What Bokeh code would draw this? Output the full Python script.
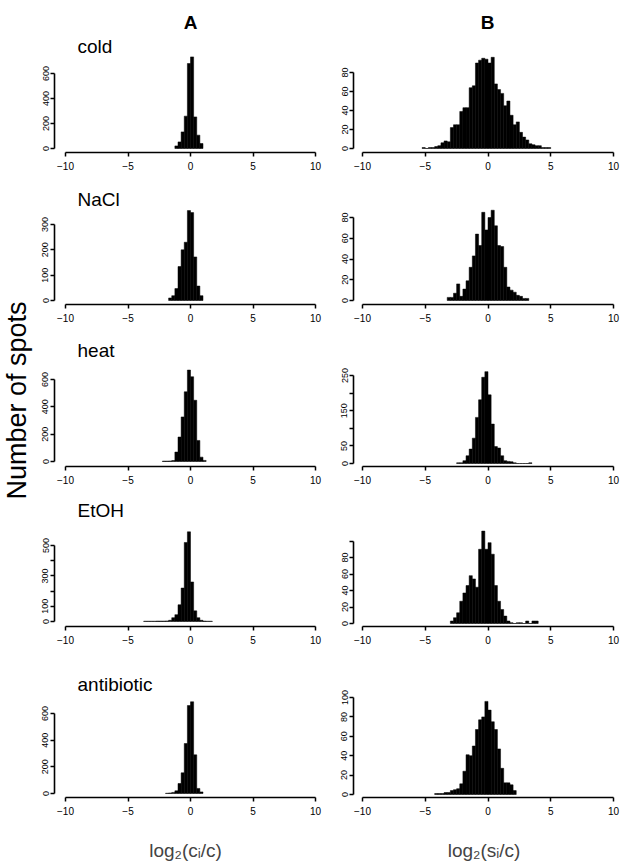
import math
from bokeh.plotting import figure
from bokeh.layouts import row, column
from bokeh.models import FixedTicker, Range1d
from bokeh.core.properties import value
from bokeh.embed import file_html
from bokeh.resources import INLINE

FONT = "Liberation Sans"
BIN = 0.25  # histogram bin width (log2 units)

conditions = ["cold", "NaCl", "heat", "EtOH", "antibiotic"]
col_headers = ["A", "B"]
x_ticks = [-10, -5, 0, 5, 10]
y_label = "Number of spots"
x_label_A = "log\u2082(c\u1d62/c)"
x_label_B = "log\u2082(s\u1d62/c)"

# ---- Column A : log2(ci/c) ; first bin left edge + counts ----
cold_A_start = -1.25
cold_A_counts = [21, 53, 133, 259, 680, 733, 253, 107, 40]
nacl_A_start = -1.75
nacl_A_counts = [10, 19, 47, 134, 200, 230, 355, 347, 172, 57, 19]
heat_A_start = -2.25
heat_A_counts = [3, 3, 4, 7, 69, 179, 326, 510, 669, 620, 448, 154, 32, 8]
etoh_A_start = -3.75
etoh_A_counts = [2, 2, 2, 2, 3, 3, 3, 4, 8, 25, 45, 110, 220, 520, 590, 260, 70, 25, 8, 3, 2, 2]
anti_A_start = -2.0
anti_A_counts = [2, 4, 8, 20, 75, 155, 375, 660, 688, 290, 38, 12]

# ---- Column B : log2(si/c) ----
cold_B_start = -5.25
cold_B_counts = [1, 0, 1, 1, 2, 3, 6, 8, 7, 22, 25, 25, 39, 43, 43, 64, 66, 90, 93, 95, 94,
                 90, 96, 68, 62, 58, 45, 50, 35, 25, 28, 17, 12, 9, 5, 4, 3, 3, 1, 1, 1]
nacl_B_start = -3.25
nacl_B_counts = [3, 3, 7, 16, 4, 11, 19, 32, 43, 64, 53, 85, 68, 80, 87, 72, 53, 52, 32, 13,
                 10, 8, 5, 4, 2, 2]
heat_B_start = -2.5
heat_B_counts = [2, 2, 8, 22, 41, 72, 131, 181, 245, 261, 195, 112, 48, 44, 22, 8, 6, 5, 2,
                 0, 0, 0, 0, 2]
etoh_B_start = -3.0
etoh_B_counts = [3, 7, 13, 27, 37, 46, 58, 54, 44, 90, 112, 90, 98, 84, 46, 27, 17, 9, 3, 1,
                 0, 1, 1, 0, 3, 0, 3, 3]
anti_B_start = -4.25
anti_B_counts = [1, 1, 1, 2, 2, 4, 5, 6, 11, 24, 41, 40, 50, 67, 77, 80, 96, 87, 75, 67, 47,
                 27, 12, 12, 10, 4]

# y-axis ticks per panel, and tick labels that the original omitted
yticks_A = [[0, 200, 400, 600], [0, 100, 200, 300], [0, 200, 400, 600],
            [0, 100, 200, 300, 400, 500], [0, 200, 400, 600]]
yhide_A = [[], [], [], [200, 400], []]
yticks_B = [[0, 20, 40, 60, 80], [0, 20, 40, 60, 80], [0, 50, 100, 150, 200, 250],
            [0, 20, 40, 60, 80, 100], [0, 20, 40, 60, 80, 100]]
yhide_B = [[], [], [100, 200], [100], []]

data_A = [(cold_A_start, cold_A_counts), (nacl_A_start, nacl_A_counts),
          (heat_A_start, heat_A_counts), (etoh_A_start, etoh_A_counts),
          (anti_A_start, anti_A_counts)]
data_B = [(cold_B_start, cold_B_counts), (nacl_B_start, nacl_B_counts),
          (heat_B_start, heat_B_counts), (etoh_B_start, etoh_B_counts),
          (anti_B_start, anti_B_counts)]

# ---- layout (page pixels) ----
YLAB_W = 34
# column geometry: frame left/width, border left/right, pixel of x=0, px per unit
COLS = {
    "A": dict(bl=20, fl=54, fw=262, br=19, x0=190.0, sx=12.5, hx=190.0),
    "B": dict(bl=18, fl=353, fw=261, br=8, x0=487.5, sx=12.55, hx=487.0),
}
ROW_TOP = [0, 176, 327, 488, 652]          # top of each row of panels
AXIS_Y = [152, 304, 466, 626, 797]         # x-axis line (frame bottom)
BOTTOM = [24, 23, 22, 26, 66]              # space below the x-axis
TITLE_BASE = [46, 199, 350, 510, 684]      # baseline of the condition names
TITLE_X = 77                               # left edge of the condition names
HEAD_BASE = 22                             # baseline of the A / B headers
# pixel of y=0 and px per count, per panel
ZERO_A = [(148, 0.125), (300, 0.2533), (461, 0.1367), (621, 0.152), (793, 0.1333)]
ZERO_B = [(148, 0.95), (300, 1.0375), (463, 0.352), (623, 0.825), (794, 0.97)]


def panel(col, r, start, counts, yticks, yhide, zero, title=None, header=None, xlabel=None):
    c = COLS[col]
    top, axis_y = ROW_TOP[r], AXIS_Y[r]
    z, sy = zero
    fh = axis_y - top
    p = figure(frame_width=c["fw"], frame_height=fh,
               min_border_left=c["bl"], min_border_right=c["br"],
               min_border_top=0, min_border_bottom=BOTTOM[r],
               x_range=Range1d((c["fl"] - c["x0"]) / c["sx"],
                               (c["fl"] + c["fw"] - c["x0"]) / c["sx"]),
               y_range=Range1d(-(axis_y - z) / sy, (z - top) / sy),
               output_backend="svg", toolbar_location=None, tools="")
    p.outline_line_color = None
    p.grid.visible = False
    left = [start + i * BIN for i in range(len(counts))]
    right = [l + BIN for l in left]
    p.quad(left=left, right=right, bottom=0, top=counts,
           fill_color="black", line_color="black", line_width=0.5)
    if title:
        p.text(x=[(TITLE_X - c["x0"]) / c["sx"]], y=[(z - TITLE_BASE[r]) / sy], text=[title],
               text_font=value(FONT), text_font_size="19px", text_color="black",
               text_align="left", text_baseline="alphabetic")
    if header:
        p.text(x=[(c["hx"] - c["x0"]) / c["sx"]], y=[(z - HEAD_BASE) / sy], text=[header],
               text_font=value(FONT), text_font_size="19px", text_font_style="bold",
               text_color="black", text_align="center", text_baseline="alphabetic")
    for ax in (p.xaxis[0], p.yaxis[0]):
        ax.axis_line_width = 1.6
        ax.major_tick_line_width = 1.5
        ax.major_tick_out = 4
        ax.major_tick_in = 0
        ax.minor_tick_line_color = None
        ax.major_label_text_font = FONT
        ax.major_label_text_color = "black"
        ax.axis_line_color = "black"
        ax.major_tick_line_color = "black"
    xa = p.xaxis[0]
    xa.ticker = FixedTicker(ticks=x_ticks)
    xa.bounds = (x_ticks[0], x_ticks[-1])
    xa.major_label_text_font_size = "10px"
    xa.major_label_standoff = 5
    if xlabel:
        xa.axis_label = xlabel
        xa.axis_label_text_font = FONT
        xa.axis_label_text_font_size = "19px"
        xa.axis_label_text_font_style = "normal"
        xa.axis_label_standoff = 22
    ya = p.yaxis[0]
    ya.ticker = FixedTicker(ticks=yticks)
    ya.bounds = (yticks[0], yticks[-1])
    ya.major_label_text_font_size = "9px"
    ya.major_label_orientation = "vertical"
    ya.major_label_standoff = 2
    ya.major_label_overrides = {t: "" for t in yhide}
    return p


colA = []
colB = []
for r in range(5):
    sA, cA = data_A[r]
    sB, cB = data_B[r]
    colA.append(panel("A", r, sA, cA, yticks_A[r], yhide_A[r], ZERO_A[r],
                      title=conditions[r], header=col_headers[0] if r == 0 else None,
                      xlabel=x_label_A if r == 4 else None))
    colB.append(panel("B", r, sB, cB, yticks_B[r], yhide_B[r], ZERO_B[r],
                      header=col_headers[1] if r == 0 else None,
                      xlabel=x_label_B if r == 4 else None))

total_h = AXIS_Y[-1] + BOTTOM[-1]
ylab = figure(frame_width=YLAB_W, frame_height=total_h, min_border=0,
              x_range=Range1d(-16, YLAB_W - 16), y_range=Range1d(-(total_h - 400), 400),
              output_backend="svg", toolbar_location=None, tools="")
ylab.axis.visible = False
ylab.grid.visible = False
ylab.outline_line_color = None
ylab.text(x=[0], y=[0], text=[y_label], angle=math.pi / 2, text_align="center",
          text_baseline="middle", text_font=value(FONT), text_font_size="27px",
          text_color="black")

layout = row(ylab, column(*colA), column(*colB))
open("out.html", "w").write(file_html(layout, INLINE))
